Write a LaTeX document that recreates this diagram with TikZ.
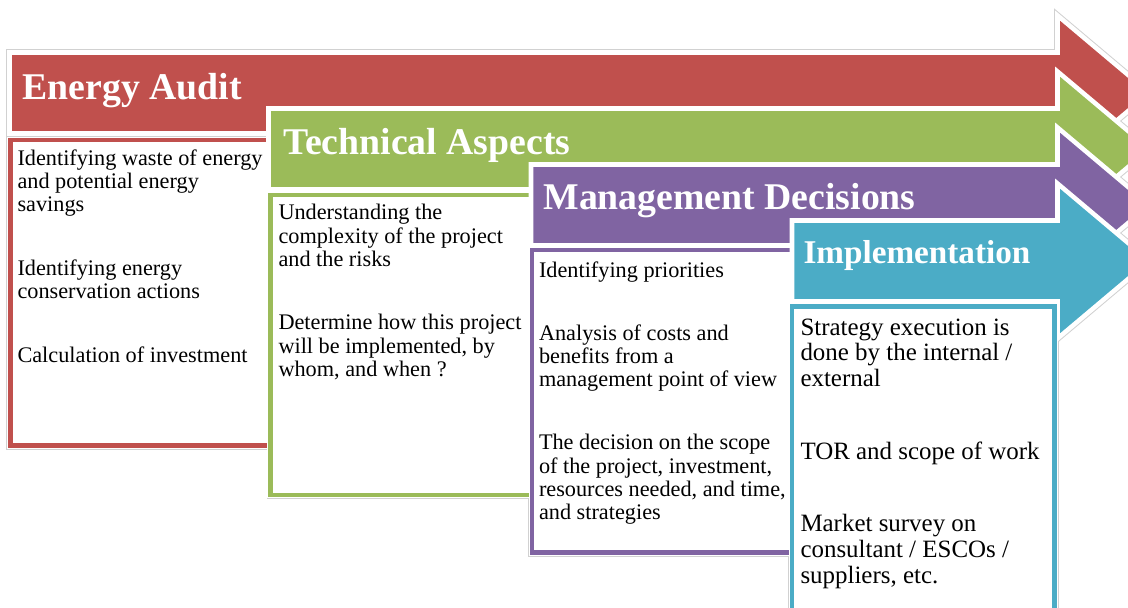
\documentclass[tikz,border=0pt]{standalone}
\usepackage{fontspec}
\setmainfont{Liberation Serif}
\tikzset{every picture/.style={line width=0.75pt}}

\definecolor{auditred}{HTML}{C0504D}
\definecolor{techgreen}{HTML}{9BBB59}
\definecolor{mgmtpurple}{HTML}{8064A2}
\definecolor{implteal}{HTML}{4BACC6}

\tikzset{
  % band with its arrow head: #1 = left edge, #2 = top edge
  stagearrow/.style 2 args={insert path={(#1,#2) -- (1057.5,#2) -- (1057.5,#2-37) -- (1149.5,#2+40.5) -- (1057.5,#2+118) -- (1057.5,#2+81) -- (#1,#2+81) -- cycle}},
  glow/.style={draw=black!18, line width=#1},
  bandfill/.style={fill=#1, draw=white, line width=3.4pt},
  boxframe/.style={preaction={draw=white, line width=5pt}, draw=#1, fill=white, line width=3.4pt},
  bandtitle/.style={anchor=base west, inner sep=0pt, text=white, font=\fontsize{28.3}{30}\selectfont\bfseries},
  itemtext/.style={anchor=north west, inner sep=0pt, align=left, font=\fontsize{16.7}{17.4}\selectfont},
  impltext/.style={itemtext, font=\fontsize{18.7}{19.2}\selectfont},
}

\begin{document}
\begin{tikzpicture}[x=0.75pt,y=0.75pt,yscale=-1,xscale=1]
\useasboundingbox (0,0) rectangle (1128,607);
\clip (0,0) rectangle (1128,607);

%Soft grey rim under every shape
\draw [glow=4.9pt, stagearrow={9.5}{52.5}] ;
\draw [glow=4.9pt, stagearrow={268.5}{108.5}] ;
\draw [glow=4.9pt, stagearrow={531}{164.5}] ;
\draw [glow=4.9pt, stagearrow={792}{220.5}] ;
\draw [glow=6pt] (10.25,140) rectangle (270.5,445.5) ;
\draw [glow=6pt] (270.5,195) rectangle (532,495) ;
\draw [glow=6pt] (532,250) rectangle (792,552.5) ;
\draw [glow=6pt] (792,306.5) rectangle (1054.5,625) ;

%Shape: Right Arrow (energy audit)
\draw [bandfill=auditred, stagearrow={9.5}{52.5}] ;
%Shape: Rectangle
\draw [boxframe=auditred] (10.25,140) rectangle (270.5,445.5) ;
% Text Node
\node (auditTitle) [bandtitle] at (22,99.5) {Energy Audit};
% Text Node
\node (auditWaste) [itemtext] at (17,149) {Identifying waste of energy\\and potential energy\\savings};
% Text Node
\node (auditActions) [itemtext] at (17,259) {Identifying energy\\conservation actions};
% Text Node
\node (auditInvest) [itemtext] at (17,346) {Calculation of investment};

%Shape: Right Arrow (technical aspects)
\draw [bandfill=techgreen, stagearrow={268.5}{108.5}] ;
%Shape: Rectangle
\draw [boxframe=techgreen] (270.5,195) rectangle (532,495) ;
% Text Node
\node (techTitle) [bandtitle] at (283,154.5) {Technical Aspects};
% Text Node
\node (techRisks) [itemtext] at (278,204) {Understanding the\\complexity of the project\\and the risks};
% Text Node
\node (techPlan) [itemtext] at (278,314) {Determine how this project\\will be implemented, by\\whom, and when ?};

%Shape: Right Arrow (management decisions)
\draw [bandfill=mgmtpurple, stagearrow={531}{164.5}] ;
%Shape: Rectangle
\draw [boxframe=mgmtpurple] (532,250) rectangle (792,552.5) ;
% Text Node
\node (mgmtTitle) [bandtitle] at (543,209.5) {Management Decisions};
% Text Node
\node (mgmtPriorities) [itemtext] at (538.5,261) {Identifying priorities};
% Text Node
\node (mgmtCosts) [itemtext] at (538.5,324) {Analysis of costs and\\benefits from a\\management point of view};
% Text Node
\node (mgmtScope) [itemtext] at (538.5,434) {The decision on the scope\\of the project, investment,\\resources needed, and time,\\and strategies};

%Shape: Right Arrow (implementation)
\draw [bandfill=implteal, stagearrow={792}{220.5}] ;
%Shape: Rectangle
\draw [boxframe=implteal] (792,306.5) rectangle (1054.5,625) ;
% Text Node
\node (implTitle) [bandtitle, font=\fontsize{24.9}{27}\selectfont\bfseries] at (803,263) {Implementation};
% Text Node
\node (implExec) [impltext] at (800,318) {Strategy execution is\\done by the internal /\\external};
% Text Node
\node (implTor) [impltext] at (800,441) {TOR and scope of work};
% Text Node
\node (implSurvey) [impltext] at (800,514) {Market survey on\\consultant / ESCOs /\\suppliers, etc.};

\end{tikzpicture}
\end{document}
